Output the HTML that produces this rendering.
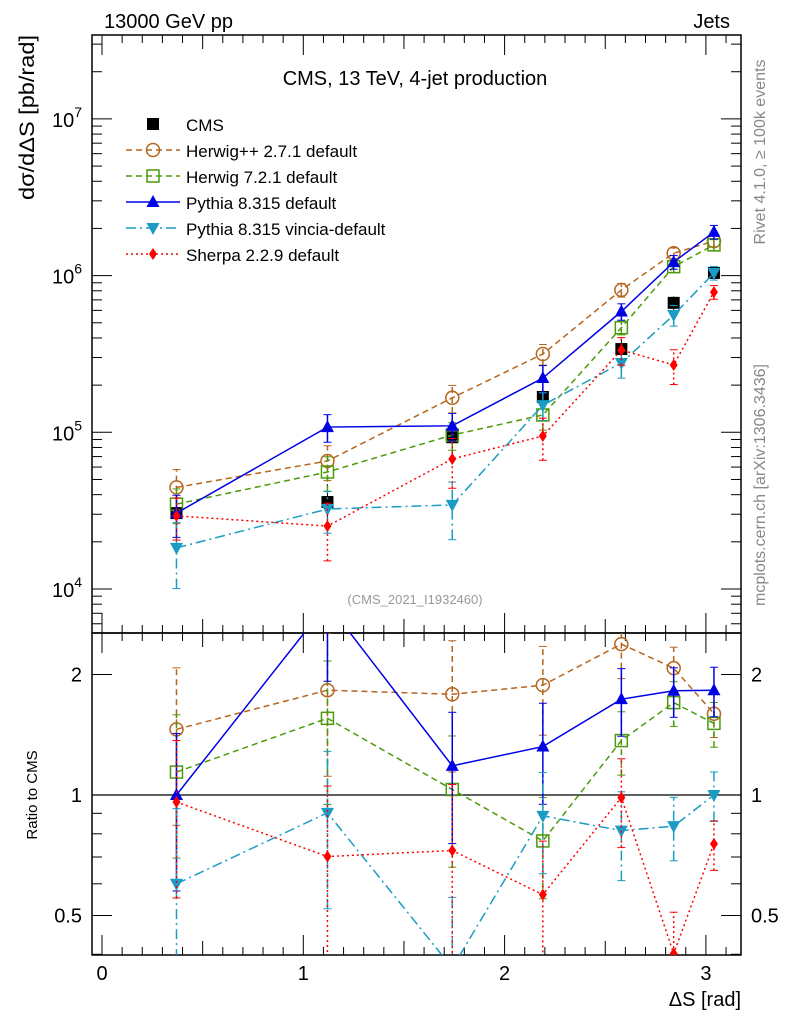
<!DOCTYPE html>
<html><head><meta charset="utf-8"><style>
html,body{margin:0;background:#fff;overflow:hidden}
svg{display:block}
svg text{font-family:"Liberation Sans","DejaVu Sans",sans-serif}
</style></head><body>
<svg id="c" width="786" height="1024" xmlns="http://www.w3.org/2000/svg">
<rect width="786" height="1024" fill="#fff"/>
<text x="104" y="28" font-size="20">13000 GeV pp</text>
<text x="730" y="28" font-size="20" text-anchor="end">Jets</text>
<text x="415" y="85" font-size="20" text-anchor="middle">CMS, 13 TeV, 4-jet production</text>
<text x="415" y="604" font-size="13" fill="#999" text-anchor="middle">(CMS_2021_I1932460)</text>
<text transform="translate(765,152) rotate(-90)" font-size="16" fill="#888" text-anchor="middle">Rivet 4.1.0, ≥ 100k events</text>
<text transform="translate(765,485) rotate(-90)" font-size="16" fill="#888" text-anchor="middle">mcplots.cern.ch [arXiv:1306.3436]</text>
<text transform="translate(34,200) rotate(-90)" font-size="21" textLength="165" lengthAdjust="spacingAndGlyphs">dσ/dΔS [pb/rad]</text>
<text transform="translate(37,795) rotate(-90)" font-size="15" text-anchor="middle">Ratio to CMS</text>
<text x="741" y="1006" font-size="20" text-anchor="end">ΔS [rad]</text>
<g id="g"></g>
</svg>
<script>
const xs=[0.37,1.12,1.74,2.19,2.58,2.84,3.04];
const cms=[30500,35900,93000,168000,340000,670000,1040000];
const cmsErr=[0.3,0.3,0.3,0.2,0.15,0.1,0.1];
const herwigpp=[44500,65600,166000,316000,810000,1390000,1660000];
const herwigppErr=[0.3,0.25,0.2,0.15,0.1,0.08,0.08];
const herwig7=[34800,55800,96000,129000,465000,1140000,1570000];
const herwig7Err=[0.25,0.25,0.2,0.2,0.1,0.08,0.08];
const pythia=[30500,108000,110000,222000,590000,1220000,1900000];
const pythiaErr=[0.3,0.2,0.2,0.2,0.12,0.1,0.1];
const vincia=[18300,32400,34400,149000,277000,560000,1040000];
const vinciaErr=[0.45,0.3,0.4,0.2,0.2,0.15,0.1];
const sherpa=[29300,25200,67600,94700,335000,269000,785000];
const sherpaErr=[0.3,0.4,0.35,0.3,0.2,0.25,0.1];
const yTicks=[4,5,6,7];
const rTicks=[0.5,1,2];
const xTicks=[0,1,2,3];

const NS="http://www.w3.org/2000/svg";
const G=document.getElementById('g');
const L=92,R=741,T=35,MB=633,RB=955;
const X=v=>102+v*201.3;
const Y=v=>589-(Math.log10(v)-4)*156.7;
const YR=r=>795-Math.log2(r)*120.5;
function el(t,a,p){const e=document.createElementNS(NS,t);for(const k in a)e.setAttribute(k,a[k]);(p||G).appendChild(e);return e;}
const defs=el('defs',{});
const c1=el('clipPath',{id:'cm'},defs);el('rect',{x:L,y:T,width:R-L,height:MB-T},c1);
const c2=el('clipPath',{id:'cr'},defs);el('rect',{x:L,y:MB,width:R-L,height:RB-MB},c2);

let f=el('rect',{x:L,y:T,width:R-L,height:MB-T,fill:'none',stroke:'#000','stroke-width':1.5});

f=el('rect',{x:L,y:MB,width:R-L,height:RB-MB,fill:'none',stroke:'#000','stroke-width':1.5});

for(let d=3;d<=7;d++){for(let m=1;m<10;m++){const v=m*Math.pow(10,d);const y=Y(v);if(y<T||y>MB)continue;const len=m==1?20:10;
 el('line',{x1:L,x2:L+len,y1:y,y2:y,stroke:'#000'});el('line',{x1:R,x2:R-len,y1:y,y2:y,stroke:'#000'});}}
yTicks.forEach(d=>{const t=el('text',{x:L-10,y:Y(Math.pow(10,d))+8,'font-size':20,'text-anchor':'end'});
 t.textContent='10';const s=el('tspan',{dy:-10,'font-size':14},t);s.textContent=d;
 });
for(let i=0;i<=32;i++){const v=i*0.1;const x=X(v);if(x<L||x>R)continue;const len=i%10==0?20:(i%5==0?14:8);
 el('line',{x1:x,x2:x,y1:RB,y2:RB-len,stroke:'#000'});el('line',{x1:x,x2:x,y1:MB,y2:MB-len,stroke:'#000'});el('line',{x1:x,x2:x,y1:MB,y2:MB+len,stroke:'#000'});el('line',{x1:x,x2:x,y1:T,y2:T+len,stroke:'#000'});}
xTicks.forEach(v=>{const t=el('text',{x:X(v),y:980,'font-size':20,'text-anchor':'middle'});t.textContent=v;
 });
[0.4,0.5,0.6,0.7,0.8,0.9,1,2].forEach(r=>{const y=YR(r);const len=(r==0.5||r==1||r==2)?20:10;
 el('line',{x1:L,x2:L+len,y1:y,y2:y,stroke:'#000'});el('line',{x1:R,x2:R-len,y1:y,y2:y,stroke:'#000'});});
rTicks.forEach(r=>{[[L-10,'end'],[R+10,'start']].forEach(([x,a])=>{const t=el('text',{x:x,y:YR(r)+7,'font-size':20,'text-anchor':a});t.textContent=r;
 });});
el('line',{x1:L,x2:R,y1:YR(1),y2:YR(1),stroke:'#000','stroke-width':1.2});

function marker(g,type,x,y,col){
 if(type=='sq')el('rect',{x:x-6,y:y-6,width:12,height:12,fill:'#000'},g);
 if(type=='circ')el('circle',{cx:x,cy:y,r:6.5,fill:'none',stroke:col,'stroke-width':1.5},g);
 if(type=='osq')el('rect',{x:x-6,y:y-6,width:12,height:12,fill:'none',stroke:col,'stroke-width':1.5},g);
 if(type=='tri')el('polygon',{points:`${x},${y-7} ${x-6.5},${y+5} ${x+6.5},${y+5}`,fill:col},g);
 if(type=='itri')el('polygon',{points:`${x},${y+7} ${x-6.5},${y-5} ${x+6.5},${y-5}`,fill:col},g);
 if(type=='dia')el('polygon',{points:`${x},${y-6} ${x-4},${y} ${x},${y+6} ${x+4},${y}`,fill:col},g);
}
const series=[
 {name:'herwigpp',label:'Herwig++ 2.7.1 default',v:herwigpp,e:herwigppErr,col:'#b5651d',m:'circ',dash:'6,4'},
 {name:'herwig7',label:'Herwig 7.2.1 default',v:herwig7,e:herwig7Err,col:'#4c9a0c',m:'osq',dash:'6,4'},
 {name:'pythia',label:'Pythia 8.315 default',v:pythia,e:pythiaErr,col:'#0000e6',m:'tri',dash:''},
 {name:'vincia',label:'Pythia 8.315 vincia-default',v:vincia,e:vinciaErr,col:'#1a9cc4',m:'itri',dash:'10,4,2,4'},
 {name:'sherpa',label:'Sherpa 2.2.9 default',v:sherpa,e:sherpaErr,col:'#ff0000',m:'dia',dash:'2,3'}];
const gc=el('g',{'clip-path':'url(#cm)'});

cms.forEach((v,i)=>{el('line',{x1:X(xs[i]),x2:X(xs[i]),y1:Y(v*(1-cmsErr[i])),y2:Y(v*(1+cmsErr[i])),stroke:'#000'},gc);marker(gc,'sq',X(xs[i]),Y(v));});
series.forEach(s=>{
 const g=el('g',{'clip-path':'url(#cm)'});
 
 el('polyline',{points:s.v.map((v,i)=>X(xs[i])+','+Y(v)).join(' '),fill:'none',stroke:s.col,'stroke-width':1.5,'stroke-dasharray':s.dash},g);
 s.v.forEach((v,i)=>{const x=X(xs[i]);el('line',{x1:x,x2:x,y1:Y(v*(1-s.e[i])),y2:Y(v*(1+s.e[i])),stroke:s.col,'stroke-width':1.5,'stroke-dasharray':s.dash},g);
  el('line',{x1:x-4,x2:x+4,y1:Y(v*(1+s.e[i])),y2:Y(v*(1+s.e[i])),stroke:s.col},g);
  el('line',{x1:x-4,x2:x+4,y1:Y(v*(1-s.e[i])),y2:Y(v*(1-s.e[i])),stroke:s.col},g);
  marker(g,s.m,x,Y(v),s.col);});
 const gr=el('g',{'clip-path':'url(#cr)'});
 
 const r=s.v.map((v,i)=>v/cms[i]);
 el('polyline',{points:r.map((v,i)=>X(xs[i])+','+YR(v)).join(' '),fill:'none',stroke:s.col,'stroke-width':1.5,'stroke-dasharray':s.dash},gr);
 r.forEach((v,i)=>{const x=X(xs[i]);const e=Math.sqrt(s.e[i]**2+cmsErr[i]**2);const lo=Math.max(v*(1-e),0.05),hi=v*(1+e);
  el('line',{x1:x,x2:x,y1:YR(lo),y2:YR(hi),stroke:s.col,'stroke-width':1.5,'stroke-dasharray':s.dash},gr);
  el('line',{x1:x-4,x2:x+4,y1:YR(hi),y2:YR(hi),stroke:s.col},gr);
  el('line',{x1:x-4,x2:x+4,y1:YR(lo),y2:YR(lo),stroke:s.col},gr);
  marker(gr,s.m,x,YR(v),s.col);});
});
const lg=el('g',{});
const e0=el('g',{},lg);
marker(e0,'sq',153,124);const t0=el('text',{x:186,y:131,'font-size':17},e0);t0.textContent='CMS';
series.forEach((s,k)=>{const y=150+k*26;const e=el('g',{},lg);
 
 el('line',{x1:126,x2:180,y1:y,y2:y,stroke:s.col,'stroke-width':1.5,'stroke-dasharray':s.dash},e);
 marker(e,s.m,153,y,s.col);const t=el('text',{x:186,y:y+7,'font-size':17},e);t.textContent=s.label;});
</script>
</body></html>
